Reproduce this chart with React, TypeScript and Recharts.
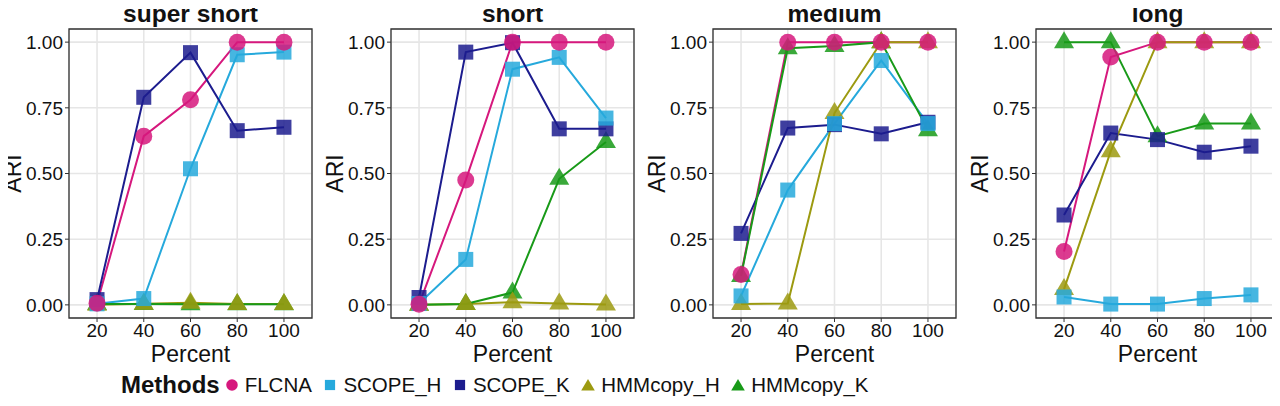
import React from 'react';
import {
  LineChart,
  Line,
  XAxis,
  YAxis,
  CartesianGrid,
  ReferenceArea,
  Label,
} from 'recharts';

// Sequencing depth (percent) shared by every panel
const percents = [20, 40, 60, 80, 100];

// ARI per method, one array per panel
const superShortFLCNA = [0.006, 0.642, 0.781, 1.0, 1.0];
const superShortScopeH = [0.004, 0.024, 0.518, 0.952, 0.962];
const superShortScopeK = [0.02, 0.79, 0.96, 0.663, 0.676];
const superShortHmmH = [0.0, 0.004, 0.008, 0.003, 0.003];
const superShortHmmK = [0.003, 0.003, 0.002, 0.002, 0.002];

const shortFLCNA = [0.002, 0.475, 1.0, 1.0, 1.0];
const shortScopeH = [0.005, 0.173, 0.897, 0.942, 0.711];
const shortScopeK = [0.028, 0.962, 0.998, 0.67, 0.67];
const shortHmmH = [0.0, 0.003, 0.01, 0.005, 0.001];
const shortHmmK = [0.0, 0.003, 0.047, 0.48, 0.62];

const mediumFLCNA = [0.116, 1.0, 1.0, 1.0, 1.0];
const mediumScopeH = [0.034, 0.437, 0.69, 0.93, 0.69];
const mediumScopeK = [0.272, 0.673, 0.686, 0.651, 0.695];
const mediumHmmH = [0.003, 0.005, 0.73, 1.0, 1.0];
const mediumHmmK = [0.11, 0.977, 0.985, 1.0, 0.665];

const longFLCNA = [0.203, 0.943, 1.0, 1.0, 1.0];
const longScopeH = [0.03, 0.003, 0.003, 0.024, 0.038];
const longScopeK = [0.342, 0.654, 0.629, 0.581, 0.604];
const longHmmH = [0.06, 0.585, 1.0, 1.0, 1.0];
const longHmmK = [1.0, 1.0, 0.642, 0.69, 0.69];

const panelTitles = ['super short', 'short', 'medium', 'long'];
const yTicks = [0, 0.25, 0.5, 0.75, 1.0];

type Shape = 'circle' | 'square' | 'triangle';
interface Method {
  key: string;
  color: string;
  shape: Shape;
}

const methods: Method[] = [
  { key: 'FLCNA', color: '#D6187D', shape: 'circle' },
  { key: 'SCOPE_H', color: '#26A9DC', shape: 'square' },
  { key: 'SCOPE_K', color: '#1C1C8E', shape: 'square' },
  { key: 'HMMcopy_H', color: '#9C9A10', shape: 'triangle' },
  { key: 'HMMcopy_K', color: '#189A18', shape: 'triangle' },
];

const panelSeries: number[][][] = [
  [superShortFLCNA, superShortScopeH, superShortScopeK, superShortHmmH, superShortHmmK],
  [shortFLCNA, shortScopeH, shortScopeK, shortHmmH, shortHmmK],
  [mediumFLCNA, mediumScopeH, mediumScopeK, mediumHmmH, mediumHmmK],
  [longFLCNA, longScopeH, longScopeK, longHmmH, longHmmK],
];

const FONT = '"Liberation Sans", Arial, Helvetica, sans-serif';
const TEXT = '#111';

function buildRows(series: number[][]) {
  return percents.map((p, i) => {
    const row: Record<string, number> = { x: p };
    methods.forEach((m, j) => {
      row[m.key] = series[j][i];
    });
    return row;
  });
}

function MarkerShape({
  shape,
  cx,
  cy,
  color,
  scale = 1,
  opacity = 1,
}: {
  shape: Shape;
  cx: number;
  cy: number;
  color: string;
  scale?: number;
  opacity?: number;
}) {
  if (shape === 'circle') {
    return <circle cx={cx} cy={cy} r={8.5 * scale} fill={color} fillOpacity={opacity} />;
  }
  if (shape === 'square') {
    const h = 7.5 * scale;
    return (
      <rect x={cx - h} y={cy - h} width={2 * h} height={2 * h} fill={color} fillOpacity={opacity} />
    );
  }
  const pts = [
    [cx, cy - 11 * scale],
    [cx - 10 * scale, cy + 6 * scale],
    [cx + 10 * scale, cy + 6 * scale],
  ]
    .map((p) => p.join(','))
    .join(' ');
  return <polygon points={pts} fill={color} fillOpacity={opacity} />;
}

const makeDot = (m: Method) => (props: any) => {
  const { cx, cy, index } = props;
  if (cx == null || cy == null) return <g key={`${m.key}-${index}`} />;
  return (
    <g key={`${m.key}-${index}`}>
      <MarkerShape shape={m.shape} cx={cx} cy={cy} color={m.color} opacity={0.85} />
    </g>
  );
};

// points are drawn first (FLCNA on top), the connecting lines over them
const pointOrder = [...methods].reverse();

function Panel({ title, series, left }: { title: string; series: number[][]; left: number }) {
  const rows = buildRows(series);
  return (
    <div style={{ position: 'absolute', left, top: 0, width: 322, height: 372 }}>
      <div
        style={{
          position: 'absolute',
          left: 69,
          width: 243,
          top: 0,
          height: 28,
          textAlign: 'center',
          fontFamily: FONT,
          fontWeight: 'bold',
          fontSize: 24.5,
          lineHeight: '28px',
          color: TEXT,
          whiteSpace: 'nowrap',
        }}
      >
        {title}
      </div>
      <LineChart
        width={322}
        height={372}
        data={rows}
        margin={{ top: 29, right: 10, bottom: 24, left: 0 }}
        style={{ fontFamily: FONT }}
      >
        <CartesianGrid stroke="#E6E6E6" strokeWidth={1.6} />
        <XAxis
          dataKey="x"
          type="number"
          domain={[8, 112]}
          ticks={percents}
          allowDataOverflow
          axisLine={false}
          tickLine={{ stroke: '#333', strokeWidth: 1 }}
          tickSize={4}
          tick={{ fill: TEXT, fontSize: 19, fontFamily: FONT }}
          height={30}
          interval={0}
        >
          <Label
            content={({ viewBox }: any) => (
              <text
                x={viewBox.x + viewBox.width / 2}
                y={viewBox.y + 44}
                textAnchor="middle"
                fontSize={23}
                fontFamily={FONT}
                fill={TEXT}
              >
                Percent
              </text>
            )}
          />
        </XAxis>
        <YAxis
          type="number"
          domain={[-0.05, 1.05]}
          ticks={yTicks}
          allowDataOverflow
          axisLine={false}
          tickLine={{ stroke: '#333', strokeWidth: 1 }}
          tickSize={4}
          tick={{ fill: TEXT, fontSize: 19, fontFamily: FONT }}
          tickFormatter={(v: number) => v.toFixed(2)}
          width={69}
          interval={0}
        >
          <Label
            content={({ viewBox }: any) => {
              const bx = 20.5;
              const cy = viewBox.y + viewBox.height / 2;
              return (
                <text
                  x={bx}
                  y={cy}
                  transform={`rotate(-90, ${bx}, ${cy})`}
                  textAnchor="middle"
                  fontSize={23}
                  fontFamily={FONT}
                  fill={TEXT}
                >
                  ARI
                </text>
              );
            }}
          />
        </YAxis>
        {pointOrder.map((m) => (
          <Line
            key={`pts-${m.key}`}
            dataKey={m.key}
            stroke="none"
            strokeWidth={0}
            dot={makeDot(m)}
            activeDot={false}
            isAnimationActive={false}
            legendType="none"
          />
        ))}
        {methods.map((m) => (
          <Line
            key={`line-${m.key}`}
            dataKey={m.key}
            type="linear"
            stroke={m.color}
            strokeWidth={2}
            dot={false}
            activeDot={false}
            isAnimationActive={false}
            legendType="none"
          />
        ))}
        <ReferenceArea
          x1={8}
          x2={112}
          y1={-0.05}
          y2={1.05}
          fill="none"
          stroke="#333"
          strokeWidth={1.3}
          ifOverflow="visible"
        />
      </LineChart>
    </div>
  );
}

function MethodsLegend() {
  return (
    <div
      style={{
        position: 'absolute',
        left: 121,
        top: 372,
        height: 26,
        display: 'flex',
        alignItems: 'center',
        fontFamily: FONT,
        color: TEXT,
        whiteSpace: 'nowrap',
      }}
    >
      <span style={{ fontWeight: 'bold', fontSize: 24, lineHeight: '26px', marginRight: 4 }}>
        Methods
      </span>
      {methods.map((m) => (
        <span key={m.key} style={{ display: 'flex', alignItems: 'center' }}>
          <svg width={16} height={16} style={{ marginRight: 5, display: 'block' }}>
            <MarkerShape
              shape={m.shape}
              cx={8}
              cy={m.shape === 'triangle' ? 9.5 : 8}
              color={m.color}
              scale={0.68}
            />
          </svg>
          <span style={{ fontSize: 20.5, lineHeight: '26px', marginRight: 10.5 }}>{m.key}</span>
        </span>
      ))}
    </div>
  );
}

export default function App() {
  return (
    <div
      style={{
        position: 'relative',
        width: 1280,
        height: 406,
        marginLeft: -8,
        marginTop: -8,
        background: '#fff',
        overflow: 'hidden',
      }}
    >
      {panelTitles.map((t, i) => (
        <Panel key={t} title={t} series={panelSeries[i]} left={Math.round(322.2 * i)} />
      ))}
      <MethodsLegend />
    </div>
  );
}
